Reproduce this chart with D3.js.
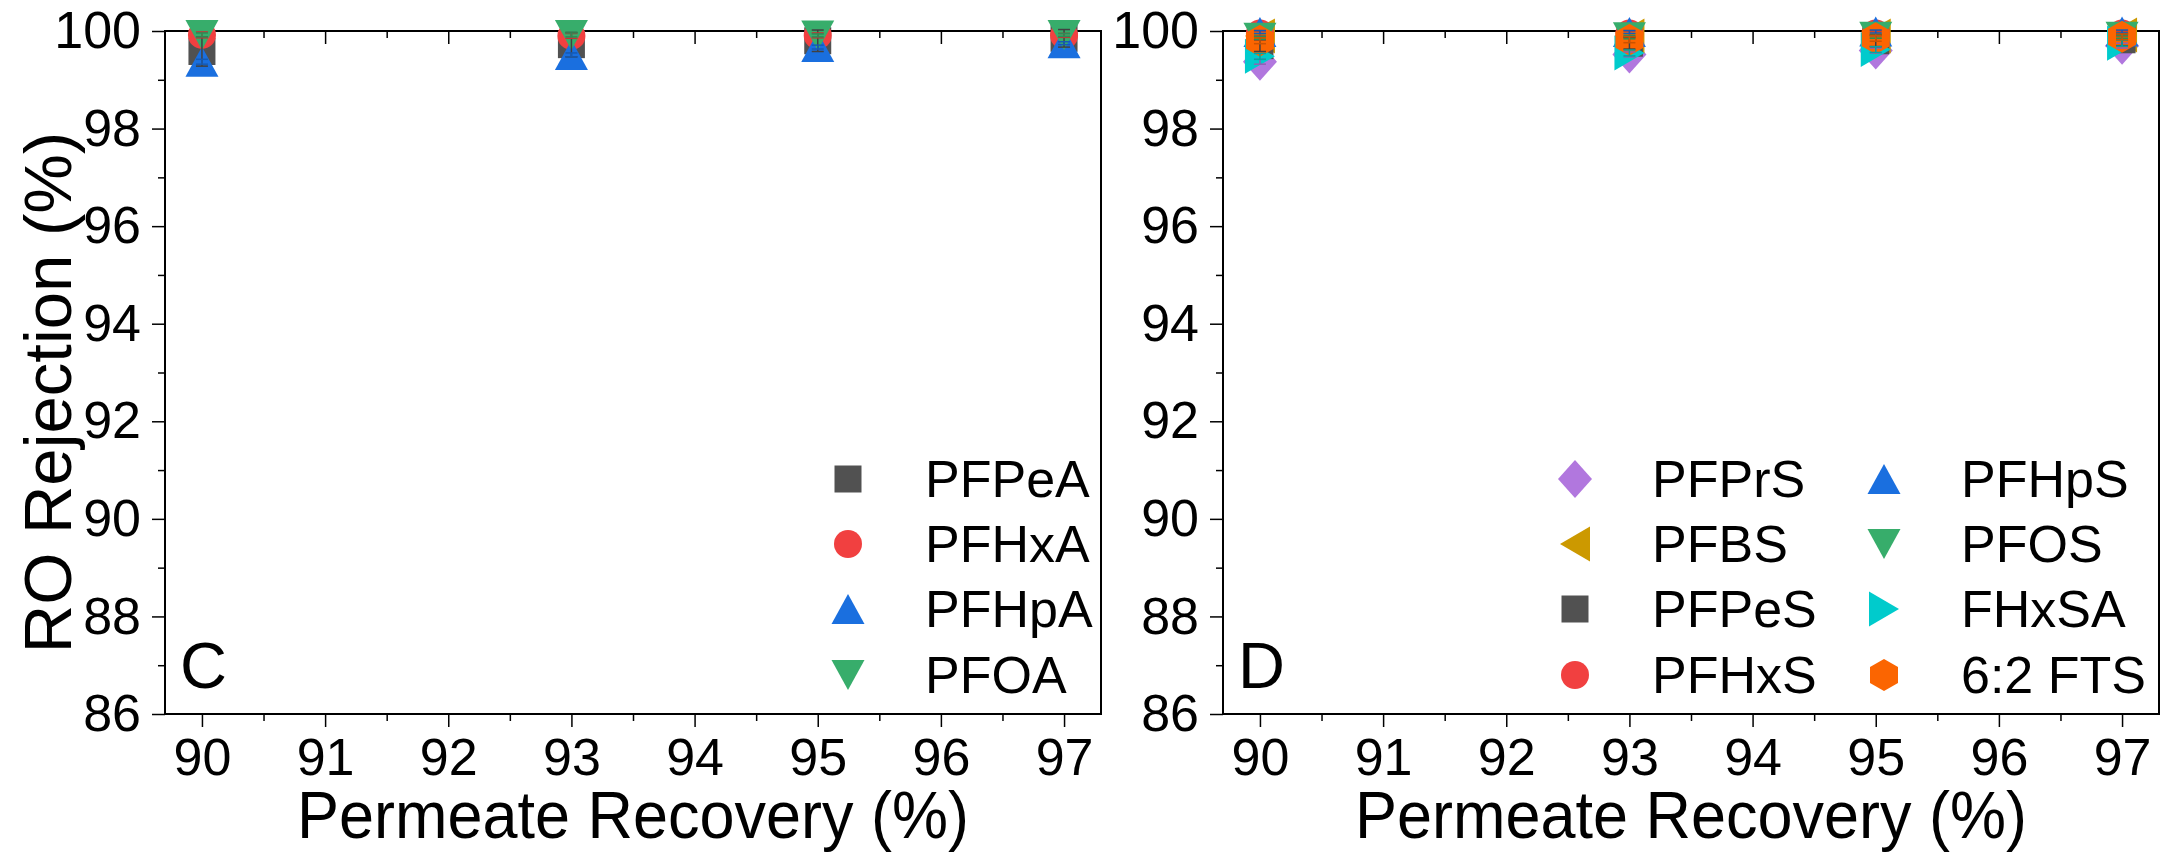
<!DOCTYPE html>
<html>
<head>
<meta charset="utf-8">
<script src="https://cdn.jsdelivr.net/npm/d3@7/dist/d3.min.js"></script>
<style>
  body { margin: 0; background: #fff; }
  text { font-family: "Liberation Sans", Arial, sans-serif; fill: #000; }
</style>
</head>
<body>
<svg id="chart" width="2166" height="854"></svg>
<script>
// x values and tick labels
var recovery = [90, 93, 95, 97];
var xTicks = [90, 91, 92, 93, 94, 95, 96, 97];
var xMinor = [90.5, 91.5, 92.5, 93.5, 94.5, 95.5, 96.5];
var yTicks = [86, 88, 90, 92, 94, 96, 98, 100];
var yMinor = [87, 89, 91, 93, 95, 97, 99];

// Panel C series (carboxylates)
var namesC = ["PFPeA", "PFHxA", "PFHpA", "PFOA"];
var pfpea = [99.58, 99.72, 99.80, 99.85];
var pfhxa = [99.92, 99.90, 99.91, 99.91];
var pfhpa = [99.37, 99.51, 99.67, 99.75];
var pfoa  = [99.92, 99.92, 99.91, 99.92];
var errPfpea = [0.30, 0.25, 0.22, 0.18];
var errPfhxa = [0.06, 0.05, 0.05, 0.04];
var errPfhpa = [0.05, 0.04, 0.04, 0.03];
var errPfoa  = [0.04, 0.04, 0.03, 0.03];

// Panel D series (sulfonates etc.)
var namesD = ["PFPrS", "PFBS", "PFPeS", "PFHxS", "PFHpS", "PFOS", "FHxSA", "6:2 FTS"];
var pfprs  = [99.37, 99.52, 99.60, 99.70];
var pfbs   = [99.90, 99.90, 99.90, 99.92];
var pfpes  = [99.70, 99.75, 99.80, 99.82];
var pfhxs  = [99.95, 99.95, 99.95, 99.95];
var pfhps  = [99.98, 99.98, 99.99, 99.99];
var pfos   = [99.86, 99.87, 99.88, 99.88];
var fhxsa  = [99.48, 99.55, 99.62, 99.75];
var fts62  = [99.80, 99.82, 99.85, 99.88];
var errD = [0.05, 0.04, 0.12, 0.05, 0.03, 0.03, 0.06, 0.06];

var colors = {
    gray: "#515151", red: "#F14040", blue: "#1A6FDF", green: "#37AD6B",
    purple: "#B177DE", gold: "#CC9900", cyan: "#00CBCC", orange: "#FB6501"
};

// marker path builders, centred on 0,0
function shapePath(type) {
    switch (type) {
        case "square":  return "M-13.5,-13.5H13.5V13.5H-13.5Z";
        case "circle":  return "M14,0A14,14 0 1,1 -14,0A14,14 0 1,1 14,0Z";
        case "up":      return "M0,-15L16.5,15H-16.5Z";
        case "down":    return "M0,15L16.5,-15H-16.5Z";
        case "diamond": return "M0,-19L17,0L0,19L-17,0Z";
        case "left":    return "M-15,0L15,-17.5V17.5Z";
        case "right":   return "M15,0L-15,-17.5V17.5Z";
        case "hex":     return "M0,-16L14,-8V8L0,16L-14,8V-8Z";
    }
}

var seriesC = [
    { name: namesC[0], values: pfpea, err: errPfpea, shape: "square", color: colors.gray },
    { name: namesC[1], values: pfhxa, err: errPfhxa, shape: "circle", color: colors.red },
    { name: namesC[2], values: pfhpa, err: errPfhpa, shape: "up",     color: colors.blue },
    { name: namesC[3], values: pfoa,  err: errPfoa,  shape: "down",   color: colors.green }
];
var valuesD = [pfprs, pfbs, pfpes, pfhxs, pfhps, pfos, fhxsa, fts62];
var shapesD = ["diamond", "left", "square", "circle", "up", "down", "right", "hex"];
var colorsD = [colors.purple, colors.gold, colors.gray, colors.red, colors.blue, colors.green, colors.cyan, colors.orange];
var seriesD = namesD.map(function(n, i) {
    return { name: n, values: valuesD[i], err: recovery.map(function() { return errD[i]; }), shape: shapesD[i], color: colorsD[i] };
});

var svg = d3.select("#chart");
var plotTop = 31, plotBottom = 714;
var y = d3.scaleLinear().domain([86, 100]).range([plotBottom, plotTop]);

function drawPanel(left, right, label, series, legendCols) {
    var x = d3.scaleLinear().domain([89.7, 97.3]).range([left, right]);
    var g = svg.append("g");

    // frame
    g.append("rect")
        .attr("x", left).attr("y", plotTop)
        .attr("width", right - left).attr("height", plotBottom - plotTop)
        .attr("fill", "none").attr("stroke", "#000").attr("stroke-width", 2);

    // left axis + minor ticks
    g.append("g").attr("transform", `translate(${left},0)`)
        .call(d3.axisLeft(y).tickValues(yTicks).tickSize(13).tickPadding(11).tickSizeOuter(0));
    g.append("g").attr("class", "minor").attr("transform", `translate(${left},0)`)
        .call(d3.axisLeft(y).tickValues(yMinor).tickSize(7).tickSizeOuter(0));

    // bottom axis + minor ticks
    g.append("g").attr("transform", `translate(0,${plotBottom})`)
        .call(d3.axisBottom(x).tickValues(xTicks).tickSize(13).tickPadding(11).tickSizeOuter(0));
    g.append("g").attr("class", "minor").attr("transform", `translate(0,${plotBottom})`)
        .call(d3.axisBottom(x).tickValues(xMinor).tickSize(7).tickSizeOuter(0));

    // top mirror ticks pointing inward
    g.append("g").attr("class", "minor").attr("transform", `translate(0,${plotTop})`)
        .call(d3.axisTop(x).tickValues(xTicks).tickSize(-13).tickSizeOuter(0));
    g.append("g").attr("class", "minor").attr("transform", `translate(0,${plotTop})`)
        .call(d3.axisTop(x).tickValues(xMinor).tickSize(-7).tickSizeOuter(0));

    g.selectAll(".minor text").remove();
    g.selectAll(".domain").remove();
    g.selectAll(".tick line").attr("stroke", "#000").attr("stroke-width", 1.5);
    g.selectAll(".tick text").style("font-size", "52px").attr("font-family", null);

    // x title
    g.append("text")
        .attr("transform", `translate(${(left + right) / 2},838) scale(0.94,1)`)
        .attr("text-anchor", "middle")
        .style("font-size", "67px")
        .text("Permeate Recovery (%)");

    // panel letter
    g.append("text")
        .attr("x", left + 15).attr("y", 688)
        .style("font-size", "65px")
        .text(label);

    // markers
    series.forEach(function(s) {
        g.append("g").selectAll("path")
            .data(s.values)
            .enter().append("path")
            .attr("d", shapePath(s.shape))
            .attr("transform", function(d, i) { return `translate(${x(recovery[i])},${y(d)})`; })
            .attr("fill", s.color);
    });

    // error bars on top
    series.forEach(function(s) {
        var eb = g.append("g").attr("stroke", d3.color(s.color).darker(0.6)).attr("stroke-width", 1.5);
        s.values.forEach(function(v, i) {
            var cx = x(recovery[i]);
            var y1 = y(v + s.err[i]), y2 = y(v - s.err[i]);
            eb.append("line").attr("x1", cx).attr("x2", cx).attr("y1", y1).attr("y2", y2);
            eb.append("line").attr("x1", cx - 6).attr("x2", cx + 6).attr("y1", y1).attr("y2", y1);
            eb.append("line").attr("x1", cx - 6).attr("x2", cx + 6).attr("y1", y2).attr("y2", y2);
        });
    });

    // legend
    var rowY = [479, 544, 609, 675];
    series.forEach(function(s, i) {
        var col = Math.floor(i / 4), row = i % 4;
        var mx = legendCols[col], my = rowY[row];
        g.append("path").attr("d", shapePath(s.shape))
            .attr("transform", `translate(${mx},${my})`)
            .attr("fill", s.color);
        g.append("text")
            .attr("x", mx + 77).attr("y", my + 18)
            .style("font-size", "52px")
            .text(s.name);
    });
}

drawPanel(165, 1101, "C", seriesC, [848]);
drawPanel(1223, 2159, "D", seriesD, [1575, 1884]);

// y title (left panel only)
svg.append("text")
    .attr("transform", `translate(71,${(plotTop + plotBottom) / 2 + 20}) rotate(-90)`)
    .attr("text-anchor", "middle")
    .style("font-size", "67px")
    .text("RO Rejection (%)");
</script>
</body>
</html>
